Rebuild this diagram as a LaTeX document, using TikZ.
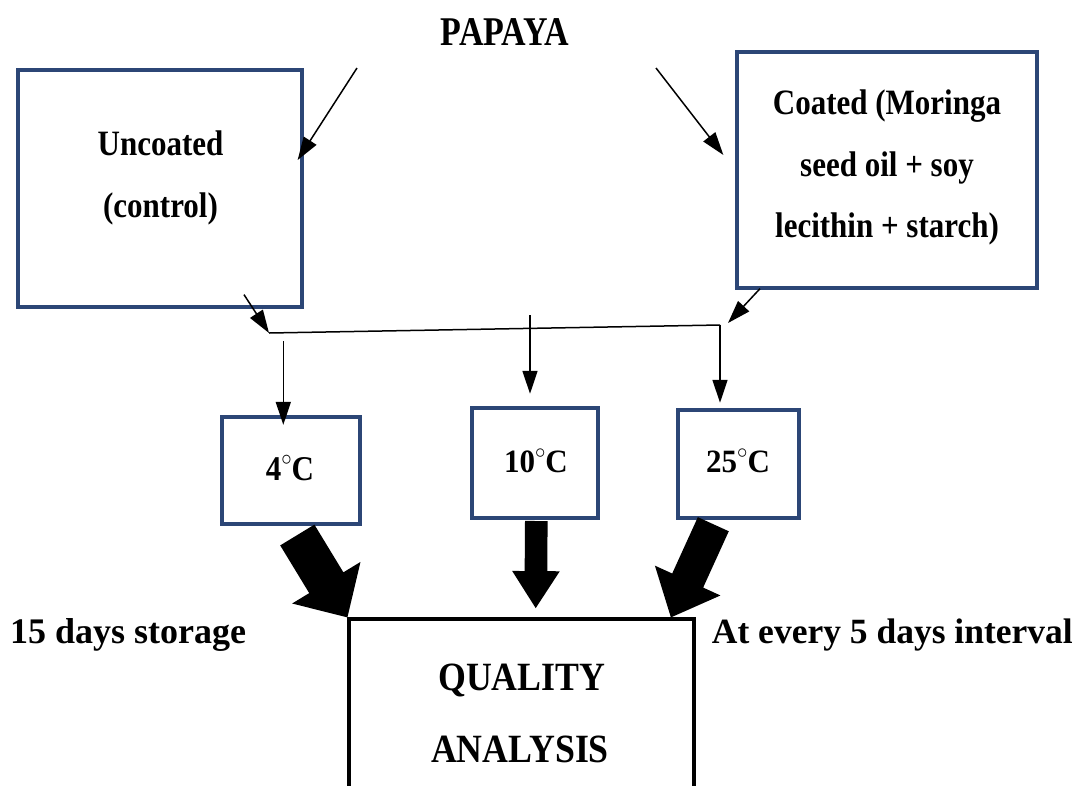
\documentclass[tikz,border=0pt]{standalone}
\usepackage{fontspec}
\usepackage{graphicx}
\setmainfont{Liberation Serif}
\usetikzlibrary{arrows.meta,calc}
\definecolor{boxblue}{RGB}{44,70,118}
\newcommand{\sy}[2]{\scalebox{1}[#1]{#2}}
\newcommand{\dgr}{\raisebox{0.42em}{\fontsize{22}{22}\selectfont$\circ$}}
\newcommand{\fatarrow}[5]{%
  \coordinate (faH) at ($(#2)!#5!(#1)$);
  \fill ($(#1)!#3!90:(#2)$) -- ($(faH)!#3!90:(#2)$) -- ($(faH)!#4!90:(#2)$) -- (#2)
    -- ($(faH)!#4!-90:(#2)$) -- ($(faH)!#3!-90:(#2)$) -- ($(#1)!#3!-90:(#2)$) -- cycle;}
\begin{document}
\begin{tikzpicture}[x=1pt,y=-1pt,
  bx/.style={draw=boxblue,line width=3.3pt,inner sep=0pt},
  qbx/.style={draw=black,line width=3.2pt,inner sep=0pt},
  txt/.style={inner sep=0pt,anchor=base},
  fa/.style={font=\fontsize{31}{37}\selectfont\bfseries},
  fb/.style={font=\fontsize{34}{39}\selectfont\bfseries},
  fc/.style={font=\fontsize{36}{42}\selectfont\bfseries},
  fs/.style={font=\fontsize{35.5}{42}\selectfont\bfseries},
  fq/.style={font=\fontsize{35.8}{42}\selectfont\bfseries},
  thinarrow/.style={line width=1.5pt,-{Triangle[length=23pt,width=15pt]}},
  joinline/.style={line width=1.5pt}
]
\clip (0,0) rectangle (1083,785);
\fill[white] (0,0) rectangle (1083,785);

% title
\node[txt,fb] (papaya) at (505,45) {\sy{1.2}{PAPAYA}};
\coordinate (pl) at (357,68);
\coordinate (pr) at (656,68);

% treatment boxes
\node[bx,minimum width=284pt,minimum height=237pt] (unc) at (160,188.5) {};
\node[txt,fa] (unc1) at (160.5,155) {\sy{1.15}{Uncoated}};
\node[txt,fa] (unc2) at (160.5,217) {\sy{1.15}{(control)}};

\node[bx,minimum width=300pt,minimum height=236pt] (coat) at (887,170) {};
\node[txt,fa] (coat1) at (887,114) {\sy{1.15}{Coated (Moringa}};
\node[txt,fa] (coat2) at (887,176) {\sy{1.15}{seed oil + soy}};
\node[txt,fa] (coat3) at (887,237) {\sy{1.15}{lecithin + starch)}};

\draw[thinarrow] (pl) -- ([xshift=-6pt,yshift=28.5pt]unc.east);
\draw[thinarrow] (pr) -- ([xshift=-12pt,yshift=15pt]coat.west);

% joining line
\coordinate (jl) at (269,333);
\coordinate (jr) at (720,325);
\draw[joinline] (jl) -- (jr);
\draw[thinarrow] ([xshift=84pt,yshift=14pt]unc.south) -- (jl);
\draw[thinarrow] ([xshift=-127pt,yshift=1pt]coat.south) -- ([xshift=8pt,yshift=2pt]jr);

% temperature boxes
\node[bx,minimum width=138pt,minimum height=107pt] (t4) at (291,470.5) {};
\node[txt,fa] (t4l) at (290,480) {\sy{1.12}{4\dgr C}};
\node[bx,minimum width=126pt,minimum height=110pt] (t10) at (535,463) {};
\node[txt,fa] (t10l) at (536,472) {\sy{1.05}{10\dgr C}};
\node[bx,minimum width=121pt,minimum height=108pt] (t25) at (738.5,464) {};
\node[txt,fa] (t25l) at (738,472) {\sy{1.05}{25\dgr C}};

\coordinate (a1) at (283.3,341);
\coordinate (a2) at (530,315);
\draw[thinarrow] (a1) -- ([xshift=-7.7pt,yshift=-9.5pt]t4.north);
\draw[thinarrow] (a2) -- ([xshift=-5pt,yshift=12.6pt]t10.north);
\draw[thinarrow] (jr) -- ([xshift=-18.5pt,yshift=5.6pt]t25.north);

% quality analysis box
\node[qbx,minimum width=345pt,minimum height=181pt] (qa) at (521.5,709.5) {};
\node[txt,fq] (qa1) at (521.7,690) {\sy{1.12}{QUALITY}};
\node[txt,fq] (qa2) at (520,762) {\sy{1.12}{ANALYSIS}};

% fat arrows
\coordinate (f1t) at (297.3,535);
\coordinate (f2t) at (536.3,521);
\coordinate (f3t) at (713.3,524.2);
\coordinate (f1p) at (qa.north west);
\coordinate (f2p) at ([xshift=14.2pt,yshift=9.3pt]qa.north);
\coordinate (f3p) at ([xshift=-24.7pt]qa.north east);
\fatarrow{f1t}{f1p}{20pt}{40pt}{40.6pt}
\fatarrow{f2t}{f2p}{11.3pt}{23.8pt}{37pt}
\fatarrow{f3t}{f3p}{17pt}{36pt}{40.5pt}

% side labels
\node[txt,fc,anchor=base west] (lab1) at (10,643.3) {15 days storage};
\node[txt,fs,anchor=base west] (lab2) at (711.7,643.3) {At every 5 days interval};
\end{tikzpicture}
\end{document}
